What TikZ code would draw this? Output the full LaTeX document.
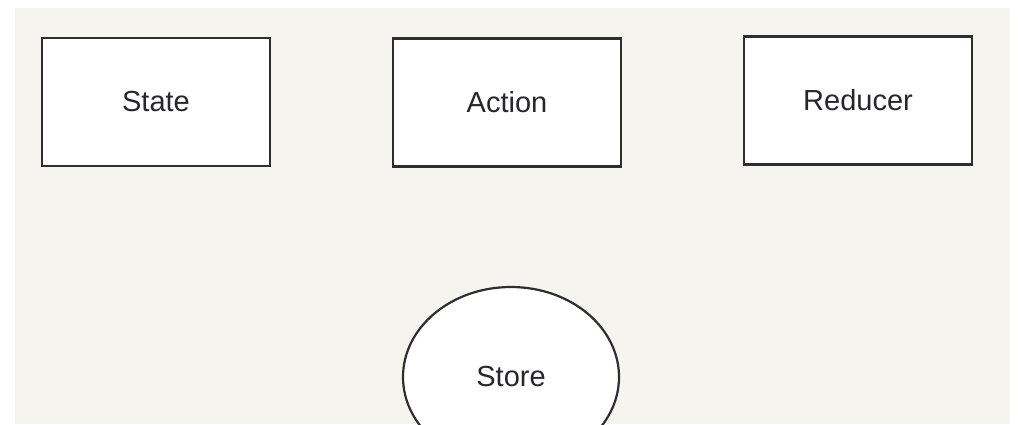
\documentclass[tikz,border=0pt]{standalone}
\usepackage{fontspec}
\setmainfont{Liberation Sans}
\usetikzlibrary{shapes.geometric}
\definecolor{panelbg}{HTML}{F5F4EE}
\definecolor{edgegray}{HTML}{2E2E2E}
\definecolor{labelgray}{HTML}{262630}

\tikzset{
  block/.style={draw=edgegray, line width=1.3pt, fill=white, rectangle,
    minimum width=114pt, minimum height=64pt, inner sep=0pt,
    text=labelgray, font=\fontsize{14.5}{17}\selectfont},
  storeblob/.style={draw=edgegray, line width=1.1pt, fill=white, ellipse,
    minimum width=108pt, minimum height=90pt, inner sep=0pt,
    text=labelgray, font=\fontsize{14.5}{17}\selectfont}
}

\begin{document}
\begin{tikzpicture}[x=0.5pt,y=-0.5pt]
\useasboundingbox (0,0) rectangle (1018,424);
\fill[white] (0,0) rectangle (1018,424);
\fill[panelbg] (15,8) rectangle (1010,424);
%
\begin{scope}
\clip (0,0) rectangle (1018,424);
\node[storeblob] (store) at (511,377) {Store};
\end{scope}
%
\node[block] (state) at (156,102) {State};
\node[block] (action) at (507,102.5) {Action};
\node[block] (reducer) at (858,100.5) {Reducer};
\end{tikzpicture}
\end{document}
